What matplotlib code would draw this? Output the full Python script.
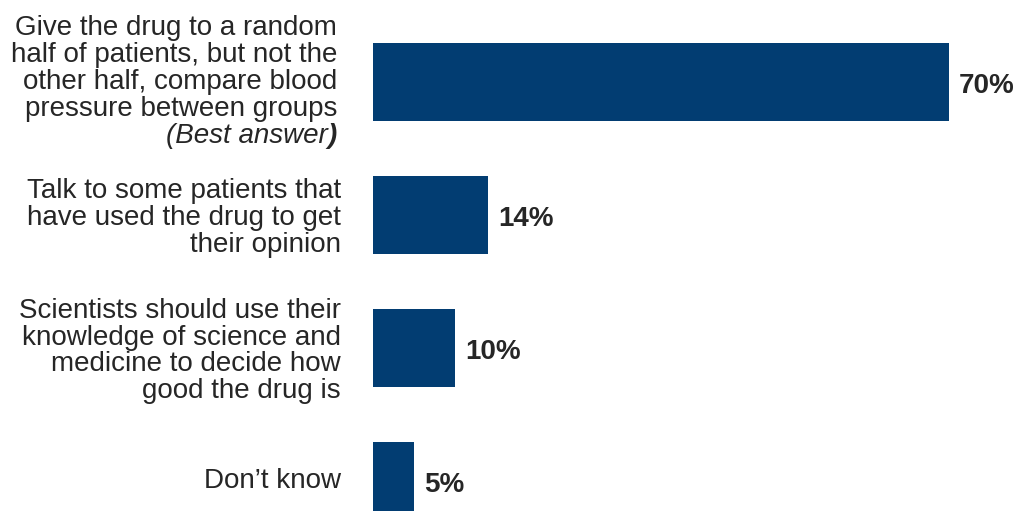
import matplotlib.pyplot as plt

plt.rcParams['font.family'] = ['Liberation Sans', 'DejaVu Sans']

answers = [
    "Give the drug to a random\nhalf of patients, but not the\nother half, compare blood\npressure between groups",
    "Talk to some patients that\nhave used the drug to get\ntheir opinion",
    "Scientists should use their\nknowledge of science and\nmedicine to decide how\ngood the drug is",
    "Don\u2019t know",
]
best_note = "(Best answer"
shares = [70, 14, 10, 5]

bar_color = "#023d72"
text_color = "#262626"

fig = plt.figure(figsize=(10.17, 5.11), dpi=100)
# axes starts where the bars start; labels hang off to the left
ax = fig.add_axes([373 / 1017, 0, 1 - 373 / 1017, 1])

px_per_pct = 8.23
ax.set_xlim(0, (1017 - 373) / px_per_pct)
top = -82 / 133
ax.set_ylim(top + 511 / 133, top)

ypos = list(range(len(shares)))
ax.barh(ypos, shares, height=0.59, color=bar_color)

line_h = 27 / 133  # one text line in data units
label_x = -32 / px_per_pct
first_x = -36 / px_per_pct
for i, (label, val) in enumerate(zip(answers, shares)):
    yc, x = i, label_x
    if "\n" in label:
        yc = i + 3 / 133
    if i == 0:
        yc = i - line_h / 2
        x = first_x
    ax.text(x, yc, label, ha='right', va='center',
            fontsize=20, color=text_color,
            linespacing=1.06 if i == 0 else 1.03, clip_on=False)
    ax.text(val + 10 / px_per_pct, i + 4 / 133, f"{val}%", ha='left', va='center',
            fontsize=20, fontweight='bold', color=text_color)

# italic note under the first answer, closing bracket in bold
ax.text(first_x, 2 * line_h, ")", ha='right', va='center',
        fontsize=20, style='italic', fontweight='bold', color=text_color)
ax.text(first_x - 9 / px_per_pct, 2 * line_h, best_note, ha='right', va='center',
        fontsize=20, style='italic', color=text_color)

ax.axis('off')
fig.savefig("out.png", dpi=100)
